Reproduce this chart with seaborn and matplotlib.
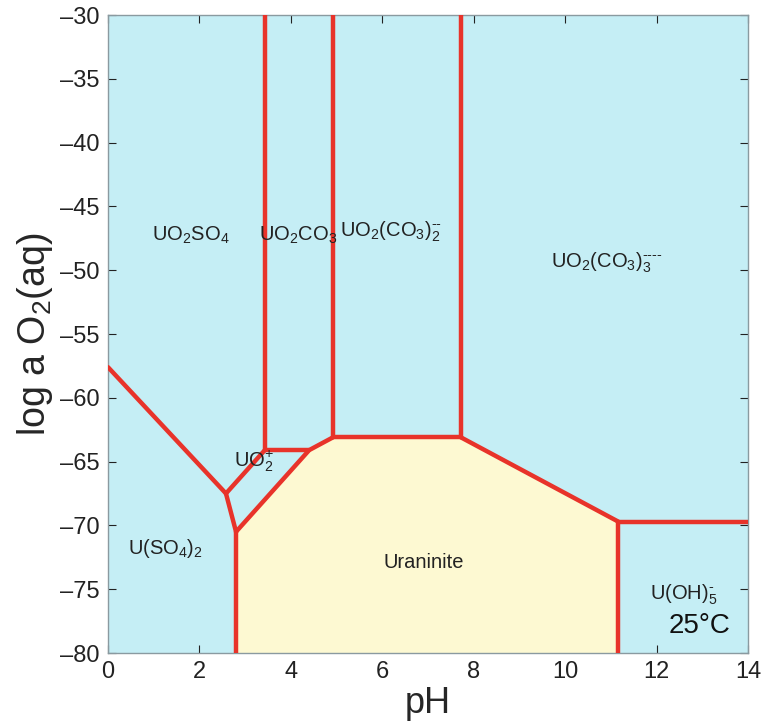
import numpy as np
import pandas as pd
import seaborn as sns
import matplotlib
matplotlib.use("Agg")
import matplotlib.pyplot as plt

# boundary segments (pH, log a O2)
seg_ids = ["sulf", "sulf_u", "u_low", "uo2p_left", "co3_v", "uo2p_top", "uran_left",
           "co32_v", "uran_top", "co33_v", "uran_right", "oh_h", "oh_v"]
seg_ph = [[0.0, 2.58], [2.58, 2.8], [2.8, 2.8], [2.58, 3.43], [3.43, 3.43], [3.43, 4.4],
          [2.8, 4.4, 4.92], [4.92, 4.92], [4.92, 7.72], [7.72, 7.72], [7.72, 11.16],
          [11.16, 14.0], [11.16, 11.16]]
seg_o2 = [[-57.6, -67.5], [-67.5, -70.5], [-70.5, -80.0], [-67.5, -64.1], [-64.1, -30.0],
          [-64.1, -64.1], [-70.5, -64.1, -63.1], [-63.1, -30.0], [-63.1, -63.1],
          [-63.1, -30.0], [-63.1, -69.7], [-69.7, -69.7], [-69.7, -80.0]]

# uraninite stability field
uran_ph = [2.8, 2.8, 4.4, 4.92, 7.72, 11.16, 11.16]
uran_o2 = [-80.0, -70.5, -64.1, -63.1, -63.1, -69.7, -80.0]

# species labels
hy = "\u2010"
lab_text = [r"UO$_2$SO$_4$", r"UO$_2$CO$_3$", r"UO$_2$(CO$_3$)$_2^{%s}$" % (hy * 2),
            r"UO$_2$(CO$_3$)$_3^{%s}$" % (hy * 4), r"UO$_2^{+}$", r"U(SO$_4$)$_2$",
            "Uraninite", r"U(OH)$_5^{%s}$" % hy]
lab_ph = [1.8, 4.15, 6.2, 10.9, 3.2, 1.25, 6.9, 12.6]
lab_o2 = [-47.3, -47.3, -47.0, -49.4, -65.0, -71.8, -72.9, -75.4]

rows = []
for sid, xs, ys in zip(seg_ids, seg_ph, seg_o2):
    for i, (x, y) in enumerate(zip(xs, ys)):
        rows.append({"seg": sid, "order": i, "pH": x, "logO2": y})
df = pd.DataFrame(rows)

sns.set_style("ticks")
plt.rcParams["font.family"] = ["Liberation Sans", "DejaVu Sans"]
plt.rcParams["mathtext.fontset"] = "custom"
plt.rcParams["mathtext.rm"] = "Liberation Sans"
plt.rcParams["mathtext.it"] = "Liberation Sans"

fig = plt.figure(figsize=(7.64, 7.25), dpi=100)
ax = fig.add_axes([0.1414, 0.0993, 0.8377, 0.8800])
ax.set_facecolor("#c5eef5")

ax.fill(uran_ph, uran_o2, color="#fdf9d2", lw=0, zorder=1)

sns.lineplot(data=df, x="pH", y="logO2", units="seg", estimator=None, sort=False,
             color="#e8332a", lw=3.2, ax=ax, legend=False, zorder=3)

for t, x, y in zip(lab_text, lab_ph, lab_o2):
    ax.text(x, y, t, ha="center", va="center", fontsize=14.5, color="#222222", zorder=4)
ax.text(12.95, -77.9, "25°C", ha="center", va="center", fontsize=20, color="#111111")

ax.set_xlim(0, 14)
ax.set_ylim(-80, -30)
ax.set_xticks(np.arange(0, 15, 2))
ax.set_yticks(np.arange(-80, -29, 5))
ax.set_yticklabels(["\u2013%d" % abs(v) for v in np.arange(-80, -29, 5)])
ax.tick_params(direction="in", length=6, labelsize=17, colors="#222222",
               top=True, right=True, pad=6)
for s in ax.spines.values():
    s.set_color("#8a9aa0")
    s.set_linewidth(1.0)
ax.set_xlabel("pH", fontsize=26, labelpad=2)
ax.set_ylabel(r"log a O$_2$(aq)", fontsize=27, labelpad=4)

fig.savefig("out.png", dpi=100)
